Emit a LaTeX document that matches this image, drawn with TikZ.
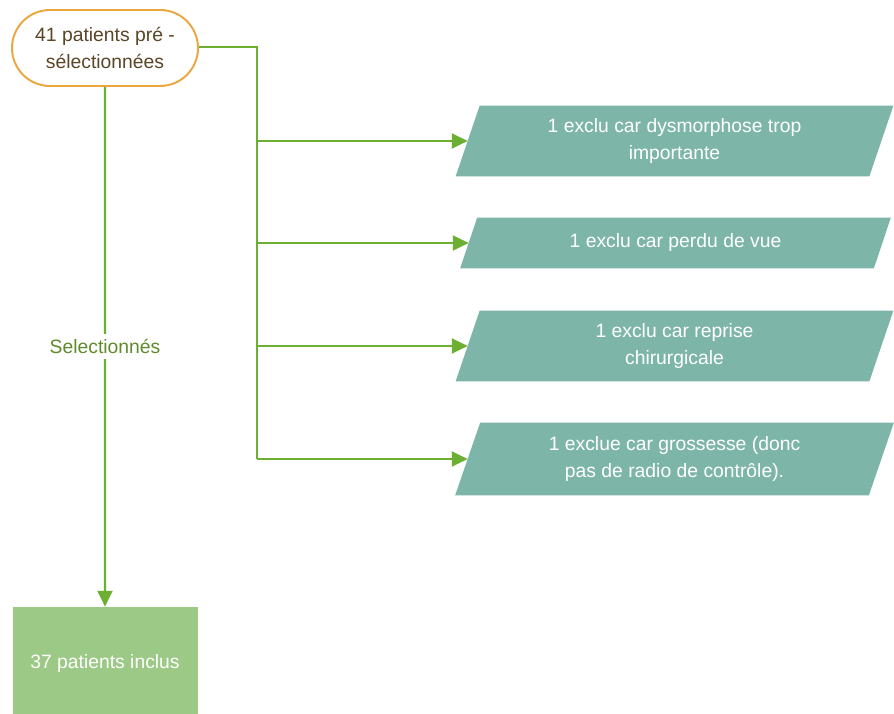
\documentclass[tikz,border=0pt]{standalone}
\usepackage{fontspec}
\setmainfont{Liberation Sans}
\usetikzlibrary{shapes.misc,arrows.meta,calc,backgrounds}
\definecolor{linie}{HTML}{6CAF32}
\definecolor{ausschluss}{HTML}{7DB6A8}
\definecolor{einschluss}{HTML}{9CC986}
\definecolor{rahmen}{HTML}{E9A73E}
\definecolor{braun}{HTML}{5A4526}
\definecolor{oliv}{HTML}{5E8A2C}
\tikzset{
	pfeil/.style={draw=linie,line width=1.2pt,-{Triangle[length=9pt,width=8.5pt]}},
	ast/.style={draw=linie,line width=1.2pt},
	exkl/.style={rectangle,text=white,align=center,minimum width=8.26cm,inner sep=0pt},
}
\begin{document}
\begin{tikzpicture}[font=\fontsize{11}{15}\selectfont]
	\clip (0,0) rectangle (17.88,14.26);%Rahmen

	\node[rounded rectangle,draw=rahmen,line width=1.1pt,fill=white,text=braun,align=center,minimum width=3.72cm,minimum height=1.52cm,inner sep=0pt] (start) at (2.10,13.30) {41 patients pré -\\sélectionnées};
	\node[rectangle,fill=einschluss,text=white,minimum width=3.70cm,minimum height=2.24cm] (inclus) at (2.10,1.00) {37 patients inclus};

	\node[exkl,minimum height=1.40cm] (ex1) at (13.49,11.44) {1 exclu car dysmorphose trop\\importante};
	\node[exkl,minimum height=1.00cm] (ex2) at (13.51,9.40) {1 exclu car perdu de vue};
	\node[exkl,minimum height=1.40cm] (ex3) at (13.49,7.34) {1 exclu car reprise\\chirurgicale};
	\node[exkl,minimum height=1.44cm] (ex4) at (13.49,5.08) {1 exclue car grossesse (donc\\pas de radio de contrôle).};

	\begin{scope}[on background layer]
		\fill[white] (0,0) rectangle (17.88,14.26);
		\foreach \ex/\s in {ex1/0.24,ex2/0.17,ex3/0.24,ex4/0.25}
			\fill[ausschluss] ($(\ex.south west)-(\s,0)$) -- ($(\ex.south east)-(\s,0)$) -- ($(\ex.north east)+(\s,0)$) -- ($(\ex.north west)+(\s,0)$) -- cycle;%Parallelogramme
	\end{scope}

	\draw[pfeil] (start) -- node[fill=white,text=oliv,inner sep=3pt] (sel) {Selectionnés} (inclus);%Hauptlinie
	\coordinate (knick) at (5.14,13.32);
	\draw[ast] (start.east |- knick) -- (knick) -- (knick |- ex4.west);%Ast rechts
	\draw[pfeil] (knick |- ex1.west) -- (ex1.west);
	\draw[pfeil] (knick |- ex2.west) -- (ex2.west);
	\draw[pfeil] (knick |- ex3.west) -- (ex3.west);
	\draw[pfeil] (knick |- ex4.west) -- (ex4.west);

\end{tikzpicture}
\end{document}
